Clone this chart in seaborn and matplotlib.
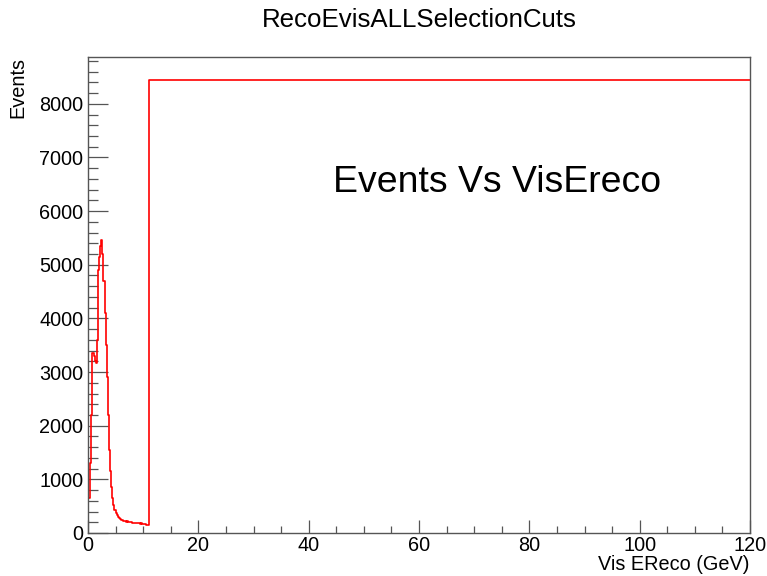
import numpy as np
import matplotlib
matplotlib.use("Agg")
import matplotlib.pyplot as plt
from matplotlib.ticker import MultipleLocator
import seaborn as sns

# Visible reconstructed energy histogram: 0.2 GeV bins up to 11 GeV, then one wide bin to 120 GeV
fine_edges = [round(0.2 * i, 1) for i in range(56)]
bin_edges = fine_edges + [120.0]
bin_counts = [
    650, 645, 1300, 2200, 3350, 3300, 3200, 3170, 3600, 4900,
    5150, 5350, 5460, 5200, 4700, 4100, 3500, 2900, 2200, 1550,
    1150, 850, 650, 520, 430, 370, 330, 300, 280, 262,
    250, 238, 228, 222, 214, 218, 206, 202, 196, 205,
    192, 188, 194, 184, 190, 178, 183, 172, 178, 168,
    172, 162, 166, 158, 145,
    8450,
]
bin_centers = [(a + b) / 2 for a, b in zip(bin_edges[:-1], bin_edges[1:])]

title_text = "RecoEvisALLSelectionCuts"
x_title = "Vis EReco (GeV)"
y_title = "Events"
note_text = "Events Vs VisEreco"

sns.set_style("white")
plt.rcParams["font.family"] = ["Liberation Sans", "DejaVu Sans"]
plt.rcParams["text.color"] = "black"
plt.rcParams["xtick.labelcolor"] = "black"
plt.rcParams["ytick.labelcolor"] = "black"

W, H = 767, 576
fig = plt.figure(figsize=(W / 100, H / 100), dpi=100)
ax = fig.add_axes([88 / W, (H - 533) / H, (750 - 88) / W, (533 - 57) / H])

sns.histplot(x=bin_centers, weights=bin_counts, bins=bin_edges,
             element="step", fill=False, color="red", linewidth=1.2, ax=ax)

ax.set_xlim(0, 120)
ax.set_ylim(0, max(bin_counts) * 1.05)
ax.set_xlabel("")
ax.set_ylabel("")

ax.xaxis.set_major_locator(MultipleLocator(20))
ax.xaxis.set_minor_locator(MultipleLocator(5))
ax.yaxis.set_major_locator(MultipleLocator(1000))
ax.yaxis.set_minor_locator(MultipleLocator(200))

frame_color = "#555555"
for s in ax.spines.values():
    s.set_visible(True)
    s.set_color(frame_color)
    s.set_linewidth(1.0)

ax.tick_params(axis="x", which="both", direction="in", bottom=True, top=False,
               color=frame_color, labelcolor="black", labelsize=14.3, pad=2.5)
ax.tick_params(axis="x", which="major", length=9.5, width=0.9)
ax.tick_params(axis="x", which="minor", length=4.7, width=0.9)
ax.tick_params(axis="y", which="both", direction="in", left=True, right=False,
               color=frame_color, labelcolor="black", labelsize=14.3, pad=3.5)
ax.tick_params(axis="y", which="major", length=14.4, width=0.9)
ax.tick_params(axis="y", which="minor", length=7.2, width=0.9)

fig.text(419 / W, 1 - 26.7 / H, title_text, ha="center", va="baseline",
         fontsize=18.6, color="black")
fig.text(750 / W, 1 - 565 / H, x_title, ha="right", va="center",
         fontsize=14.3, color="black")
fig.text(17.5 / W, 1 - 57 / H, y_title, rotation=90, ha="center", va="top",
         fontsize=14.3, color="black")
fig.text(332.7 / W, 1 - 192.3 / H, note_text, ha="left", va="baseline",
         fontsize=26.9, color="black")

fig.savefig("out.png", dpi=100, facecolor="white")
